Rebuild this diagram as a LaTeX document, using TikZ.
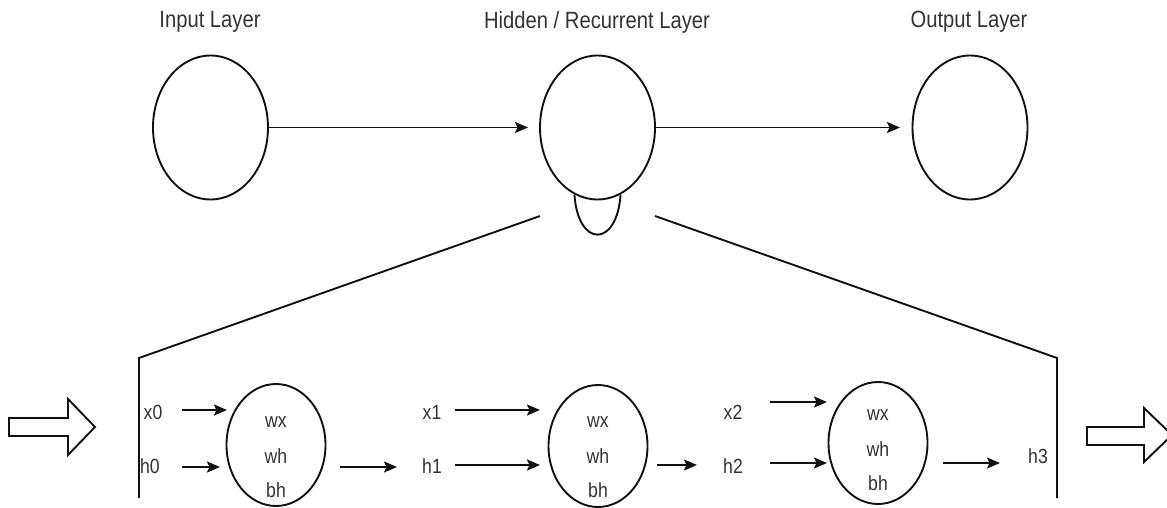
\documentclass[tikz,border=0pt]{standalone}
\usepackage{fontspec}
\setmainfont{Liberation Sans}
\newfontfamily\cond{Liberation Sans}[FakeStretch=0.86]
\usetikzlibrary{arrows.meta,shapes.geometric}
\definecolor{ink}{HTML}{111111}
\definecolor{txt}{HTML}{333333}
\tikzset{
  layer/.style={draw=ink, line width=1.9pt, ellipse, minimum width=115pt, minimum height=144pt, inner sep=0pt},
  cell/.style={draw=ink, line width=1.9pt, ellipse, minimum width=99pt, minimum height=122pt, inner sep=0pt},
  title/.style={text=txt, font=\cond\fontsize{23.5}{25}\selectfont, inner sep=0pt},
  lbl/.style={text=txt, font=\cond\fontsize{20.5}{22}\selectfont, inner sep=0pt},
  conn/.style={draw=ink, line width=1.9pt, -{Stealth[length=13pt,width=11pt,inset=2.5pt]}},
  plain/.style={draw=ink, line width=1.9pt},
  hollow/.style={draw=ink, line width=1.9pt, fill=white, line join=miter}
}
\begin{document}
\begin{tikzpicture}[x=1pt,y=-1pt]
\useasboundingbox (0,0) rectangle (1167,508);
% titles
\node[title] (tin) at (210,22) {Input Layer};
\node[title] (thid) at (597,22) {Hidden / Recurrent Layer};
\node[title] (tout) at (969,22) {Output Layer};
% top layers
\node[layer] (inp) at (210.5,127.5) {};
\node[layer] (hid) at (597.5,127.5) {};
\node[layer] (out) at (970,127.5) {};
\coordinate (a1) at (528,127.5);
\coordinate (a2) at (900,127.5);
\draw[conn] (inp.east) -- (a1);
\draw[conn] (hid.east) -- (a2);
% self loop
\draw[plain] (hid.251) .. controls (578,248) and (617,248) .. (hid.289);
% zoom lines
\coordinate (zl) at (540,216);
\coordinate (zr) at (655,216);
\coordinate (cl) at (139,358);
\coordinate (cr) at (1057,358);
\coordinate (bl) at (139,498);
\coordinate (br) at (1057,498);
\draw[plain, line join=miter] (zl) -- (cl) -- (bl);
\draw[plain, line join=miter] (zr) -- (cr) -- (br);
% hollow arrows
\draw[hollow] (9,418) -- (68,418) -- (68,399) -- (95,427) -- (68,455) -- (68,436) -- (9,436) -- cycle;
\draw[hollow] (1087,427) -- (1144,427) -- (1144,408) -- (1172,435) -- (1144,462) -- (1144,445) -- (1087,445) -- cycle;
% cells
\node[cell] (c1) at (276,445) {};
\node[cell] (c2) at (598,446) {};
\node[cell] (c3) at (878,443) {};
\foreach \c/\dy in {c1/0,c2/0,c3/7}{
  \node[lbl] at ([yshift=\dy pt]\c.center |- 0,422) {wx};
  \node[lbl] at ([yshift=\dy pt]\c.center |- 0,456) {wh};
  \node[lbl] at ([yshift=\dy pt]\c.center |- 0,490) {bh};
}
% labels
\node[lbl] (x0) at (153,412) {x0};
\node[lbl] (h0) at (150,466) {h0};
\node[lbl] (x1) at (432,412) {x1};
\node[lbl] (h1) at (432,466) {h1};
\node[lbl] (x2) at (733,412) {x2};
\node[lbl] (h2) at (733,466) {h2};
\node[lbl] (h3) at (1038,456) {h3};
% arrow end coordinates
\coordinate (x0s) at (182,410); \coordinate (x0e) at (227,410);
\coordinate (h0s) at (182,467); \coordinate (h0e) at (220,467);
\coordinate (c1s) at (340,467); \coordinate (c1e) at (397,467);
\coordinate (x1s) at (455,410); \coordinate (x1e) at (540,410);
\coordinate (h1s) at (455,465); \coordinate (h1e) at (540,465);
\coordinate (c2s) at (657,465); \coordinate (c2e) at (697,465);
\coordinate (x2s) at (770,402); \coordinate (x2e) at (827,402);
\coordinate (h2s) at (770,463); \coordinate (h2e) at (827,463);
\coordinate (c3s) at (943,463); \coordinate (c3e) at (1000,463);
\draw[conn] (x0s) -- (x0e);
\draw[conn] (h0s) -- (h0e);
\draw[conn] (c1s) -- (c1e);
\draw[conn] (x1s) -- (x1e);
\draw[conn] (h1s) -- (h1e);
\draw[conn] (c2s) -- (c2e);
\draw[conn] (x2s) -- (x2e);
\draw[conn] (h2s) -- (h2e);
\draw[conn] (c3s) -- (c3e);
\end{tikzpicture}
\end{document}
